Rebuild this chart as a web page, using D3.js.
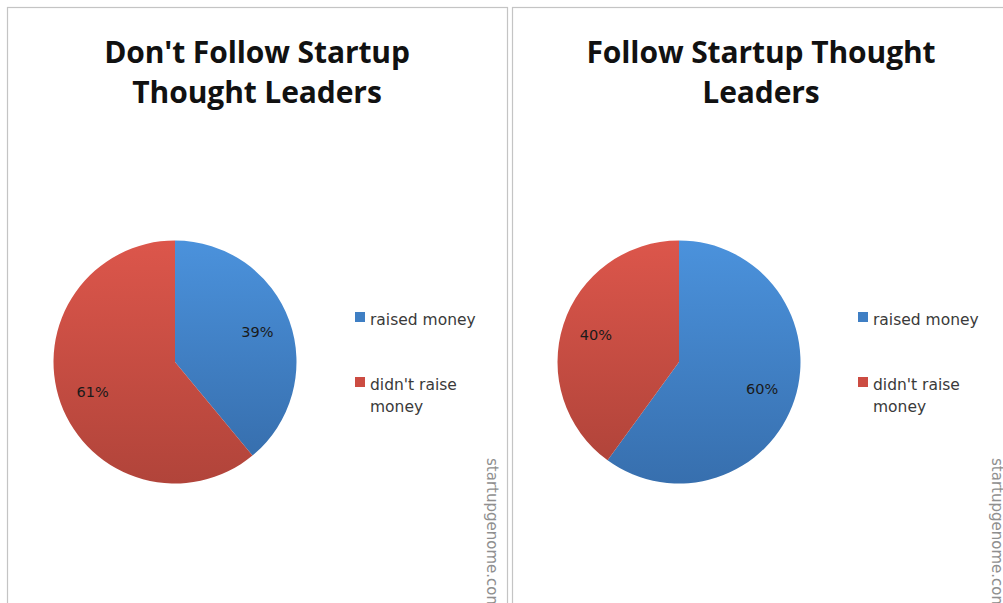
<!DOCTYPE html>
<html>
<head>
<meta charset="utf-8">
<script src="https://cdn.jsdelivr.net/npm/d3@7"></script>
<style>
  html, body { margin: 0; padding: 0; background: #fff; }
  svg { display: block; }
</style>
</head>
<body>
<svg id="chart" width="1003" height="603"></svg>
<script>
// ---- data ----
const categories = ["raised money", "didn't raise money"];
const legendLines = [["raised money"], ["didn't raise", "money"]];
const titleDontFollow = ["Don't Follow Startup", "Thought Leaders"];
const titleFollow = ["Follow Startup Thought", "Leaders"];
const valuesDontFollow = [39, 61];
const valuesFollow = [60, 40];
const watermark = "startupgenome.com";

// ---- drawing ----
const svg = d3.select("#chart");
const defs = svg.append("defs");

const grads = [
  { id: "gBlue", top: "#4b92dc", bottom: "#376fae" },
  { id: "gRed", top: "#dc564b", bottom: "#b1443a" }
];
grads.forEach(g => {
  const lg = defs.append("linearGradient").attr("id", g.id)
    .attr("x1", 0).attr("y1", 0).attr("x2", 0).attr("y2", 1);
  lg.append("stop").attr("offset", "0%").attr("stop-color", g.top);
  lg.append("stop").attr("offset", "100%").attr("stop-color", g.bottom);
});
const legendColors = ["#3f7fc4", "#cc4c42"];

const color = d3.scaleOrdinal().domain(categories).range(["url(#gBlue)", "url(#gRed)"]);
const legendColor = d3.scaleOrdinal().domain(categories).range(legendColors);

const panels = [
  { x: 7, title: titleDontFollow, values: valuesDontFollow, cx: 175, legendX: 355, titleCx: 257 },
  { x: 512, title: titleFollow, values: valuesFollow, cx: 679, legendX: 858, titleCx: 761 }
];

const R = 121.5, CY = 362;
const pie = d3.pie().sort(null).value(d => d.v);
const arc = d3.arc().innerRadius(0).outerRadius(R);
const labelArc = d3.arc().innerRadius(R * 0.72).outerRadius(R * 0.72);

panels.forEach(p => {
  const g = svg.append("g");
  // panel frame
  g.append("rect")
    .attr("x", p.x + 0.5).attr("y", 7.5)
    .attr("width", 500).attr("height", 640)
    .attr("fill", "#fff").attr("stroke", "#c4c4c4").attr("stroke-width", 1.2);

  // title
  const t = g.append("text")
    .attr("x", p.titleCx).attr("y", 63)
    .attr("text-anchor", "middle")
    .style("font-family", "'Open Sans', Lato, sans-serif")
    .style("font-weight", 700)
    .style("font-size", "30px")
    .style("letter-spacing", "-0.1px")
    .attr("fill", "#111");
  p.title.forEach((line, i) => {
    t.append("tspan").attr("x", p.titleCx).attr("dy", i === 0 ? 0 : 40).text(line);
  });

  // pie
  const data = categories.map((c, i) => ({ c, v: p.values[i] }));
  const arcs = pie(data);
  const pg = g.append("g").attr("transform", `translate(${p.cx},${CY})`);
  pg.selectAll("path").data(arcs).enter().append("path")
    .attr("d", arc)
    .attr("fill", d => color(d.data.c));
  pg.selectAll("text").data(arcs).enter().append("text")
    .attr("transform", d => `translate(${labelArc.centroid(d)})`)
    .attr("text-anchor", "middle")
    .attr("dy", "0.35em")
    .style("font-family", "'DejaVu Sans', Verdana, sans-serif")
    .style("font-size", "14.5px")
    .attr("fill", "#1a1a1a")
    .text(d => d.data.v + "%");

  // legend
  const lgY = [312, 377];
  categories.forEach((c, i) => {
    g.append("rect")
      .attr("x", p.legendX).attr("y", lgY[i])
      .attr("width", 10).attr("height", 10)
      .attr("fill", legendColor(c));
    const lt = g.append("text")
      .attr("x", p.legendX + 15).attr("y", lgY[i] + 13)
      .style("font-family", "'DejaVu Sans', Verdana, sans-serif")
      .style("font-size", "15.5px")
      .attr("fill", "#3a3a3a");
    legendLines[i].forEach((line, j) => {
      lt.append("tspan").attr("x", p.legendX + 15).attr("dy", j === 0 ? 0 : 22).text(line);
    });
  });

  // watermark
  g.append("text")
    .attr("transform", `translate(${p.x + 480},458) rotate(90)`)
    .style("font-family", "'DejaVu Sans', Verdana, sans-serif")
    .style("font-size", "15px")
    .attr("fill", "#8f8f8f")
    .text(watermark);
});
</script>
</body>
</html>
